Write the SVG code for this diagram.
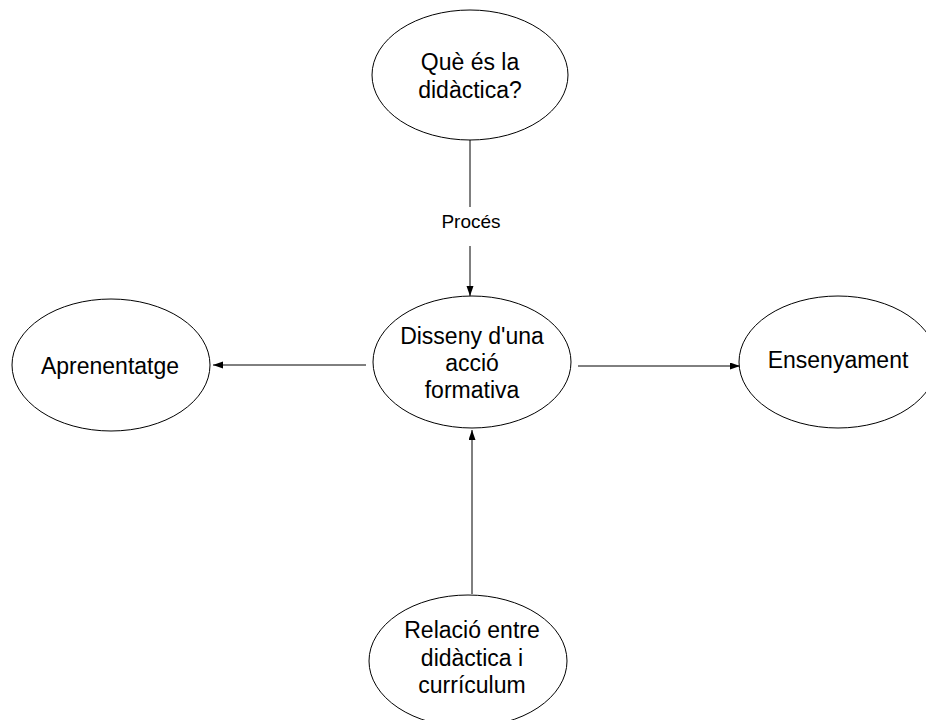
<svg xmlns="http://www.w3.org/2000/svg" width="926" height="720" viewBox="0 0 926 720">
<style>
.node ellipse{fill:#fff;stroke:#000;stroke-width:1}
.node text{font-family:"Liberation Sans",Arial,sans-serif;font-size:23px;fill:#000;text-anchor:middle}
.conn line{stroke:#000;stroke-width:1;fill:none}
.lbl{font-family:"Liberation Sans",Arial,sans-serif;font-size:19px;fill:#000;text-anchor:middle}
</style>
<defs>
<marker id="ah" markerUnits="userSpaceOnUse" markerWidth="11" markerHeight="8" refX="10" refY="3.5" orient="auto">
<path d="M0,0 L10,3.5 L0,7 z" fill="#000"/>
</marker>
</defs>
<rect width="926" height="720" fill="#fff"/>
<g id="connectors" class="conn">
<line x1="470" y1="140" x2="470" y2="207"/>
<line x1="470" y1="246" x2="470" y2="296" marker-end="url(#ah)"/>
<text class="lbl" x="471" y="228">Procés</text>
<line x1="366" y1="365" x2="213" y2="365" marker-end="url(#ah)"/>
<line x1="578" y1="366" x2="740" y2="366" marker-end="url(#ah)"/>
<line x1="472" y1="594" x2="472" y2="430" marker-end="url(#ah)"/>
</g>
<g id="node-que" class="node">
<ellipse cx="470" cy="75" rx="98" ry="65"/>
<text x="470" y="70">Què és la</text>
<text x="470" y="98">didàctica?</text>
</g>
<g id="node-disseny" class="node">
<ellipse cx="472" cy="362" rx="99" ry="66"/>
<text x="472" y="344">Disseny d'una</text>
<text x="472" y="371">acció</text>
<text x="472" y="398">formativa</text>
</g>
<g id="node-aprenentatge" class="node">
<ellipse cx="111" cy="365" rx="99" ry="66"/>
<text x="110" y="374">Aprenentatge</text>
</g>
<g id="node-ensenyament" class="node">
<ellipse cx="838" cy="362" rx="99" ry="66"/>
<text x="838" y="368">Ensenyament</text>
</g>
<g id="node-relacio" class="node">
<ellipse cx="468" cy="661" rx="99" ry="66"/>
<text x="472" y="638">Relació entre</text>
<text x="472" y="666">didàctica i</text>
<text x="472" y="693">currículum</text>
</g>
</svg>
